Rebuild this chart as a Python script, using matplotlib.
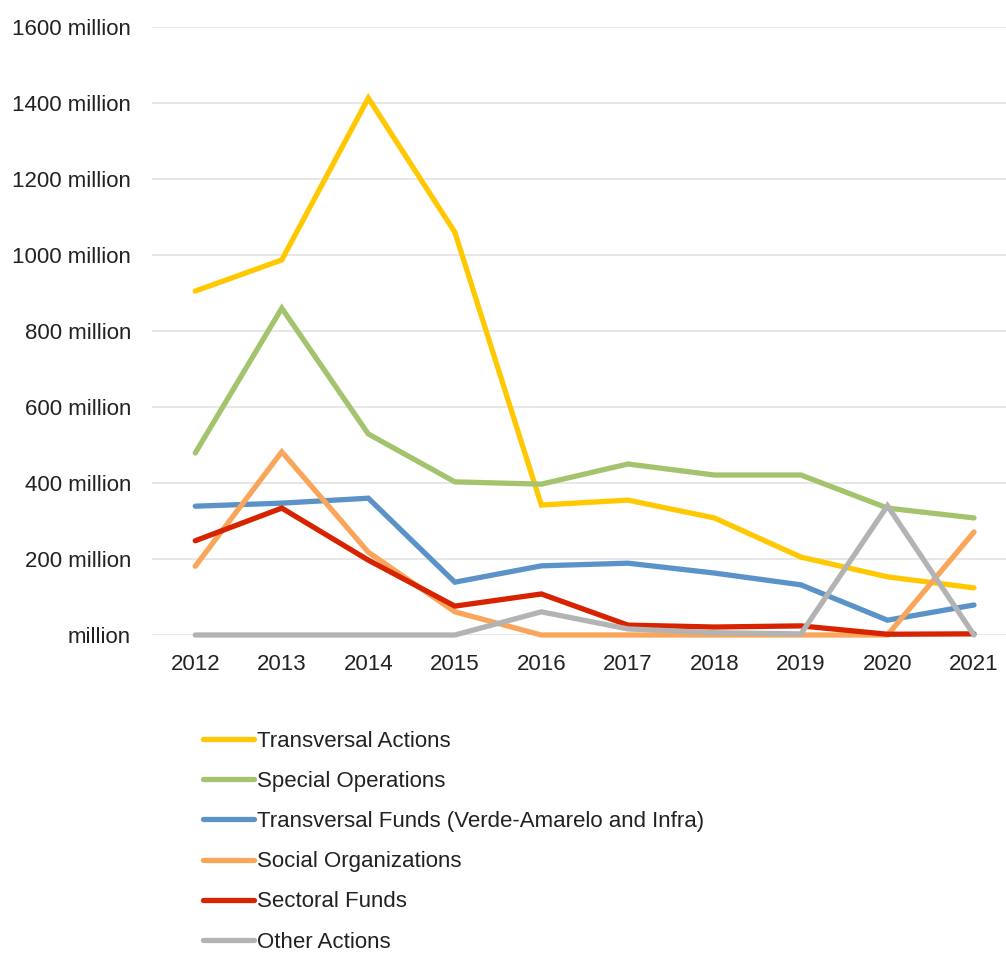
import matplotlib
matplotlib.use("Agg")
import matplotlib.pyplot as plt
from matplotlib import font_manager as fm

years = ["2012", "2013", "2014", "2015", "2016", "2017", "2018", "2019", "2020", "2021"]
transversal_actions = [905, 987, 1413, 1060, 342, 355, 308, 205, 153, 124]
special_operations = [479, 860, 529, 403, 397, 450, 421, 421, 334, 308]
transversal_funds = [339, 347, 360, 139, 182, 189, 163, 132, 39, 79]
social_organizations = [181, 482, 218, 61, 0, 0, 0, 0, 0, 271]
sectoral_funds = [248, 334, 197, 76, 108, 26, 21, 24, 2, 3]
other_actions = [0, 0, 0, 0, 61, 16, 6, 3, 340, 0]

series_names = ["Transversal Actions", "Special Operations",
                "Transversal Funds (Verde-Amarelo and Infra)",
                "Social Organizations", "Sectoral Funds", "Other Actions"]
series = [transversal_actions, special_operations, transversal_funds,
          social_organizations, sectoral_funds, other_actions]
colors = ["#FFC800", "#A3C46C", "#5B93C9", "#F9A65A", "#D82300", "#B3B3B3"]
yticks = [0, 200, 400, 600, 800, 1000, 1200, 1400, 1600]
ytick_labels = ["million"] + [f"{v} million" for v in yticks[1:]]

names = {f.name for f in fm.fontManager.ttflist}
fam = ["Liberation Sans Narrow", "DejaVu Sans"] if "Liberation Sans Narrow" in names else ["Liberation Sans", "DejaVu Sans"]
plt.rcParams['font.family'] = fam

W, H = 1006, 955
fig = plt.figure(figsize=(W / 100, H / 100), dpi=100)
left, right, top, bottom = 152, 1006, 27, 635
ax = fig.add_axes([left / W, 1 - bottom / H, (right - left) / W, (bottom - top) / H])

x = list(range(len(years)))
for vals, name, c in zip(series, series_names, colors):
    ax.plot(x, vals, color=c, lw=3.8, label=name, clip_on=False,
            solid_joinstyle="miter", solid_capstyle="round")

ax.set_xlim(-0.5, 9.37)
ax.set_ylim(0, 1600)
ax.set_yticks(yticks)
ax.set_yticklabels(ytick_labels)
ax.set_xticks(x)
ax.set_xticklabels(years)
ax.tick_params(axis="both", length=0, labelsize=16, colors="#222222")
ax.tick_params(axis="y", pad=15)
ax.tick_params(axis="x", pad=14)
ax.grid(axis="y", color="#E3E3E3", lw=1.2)
ax.set_axisbelow(True)
for s in ax.spines.values():
    s.set_visible(False)

fig.legend(loc="upper left", bbox_to_anchor=(203 / W, 1 - 731 / H),
           frameon=False, fontsize=16, handlelength=2.3, handletextpad=0.15,
           labelspacing=0.86, borderpad=0, borderaxespad=0,
           labelcolor="#222222")

fig.savefig("out.png", dpi=100)
